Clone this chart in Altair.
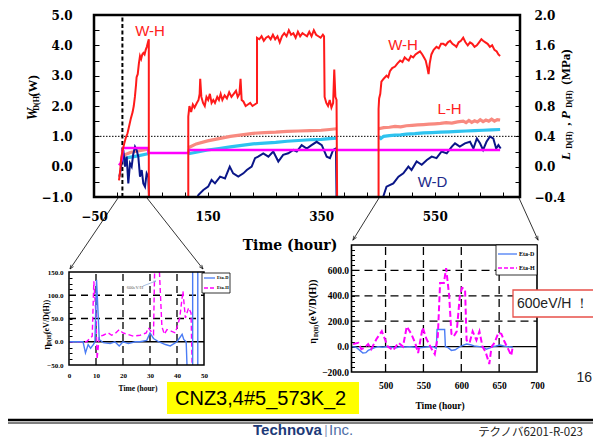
import math
import altair as alt
import pandas as pd

# ---------------- main chart data: (hour, value) ----------------
# W-H (W, left axis)
WH_SEG1 = [(-6, -0.45), (-4, -0.15), (-2, 0.3), (0, 0.5), (3, 0.75), (6, 0.95), (9, 1.1), (12, 1.35),
           (15, 1.6), (18, 1.8), (20, 2.0), (22, 2.3), (24, 2.7), (25, 2.95), (27, 3.05), (29, 3.4),
           (31, 3.65), (33, 3.55), (35, 3.7), (37, 3.75), (39, 3.7), (41, 3.85), (43, 3.95), (45, 4.1),
           (46.5, 4.2), (46.5, -1)]
WH_SEG2 = [(116, -1), (116, 1.65), (118, 2.0), (121, 1.8), (124, 2.05), (127, 1.95), (131, 2.1), (134, 2.2),
           (136, 2.4), (137, 2.9), (139, 2.3), (142, 2.1), (145, 2.0), (148, 2.3), (151, 2.2), (154, 2.4),
           (157, 2.1), (160, 2.2), (163, 2.1), (167, 2.3), (170, 2.2), (173, 2.4), (176, 2.2), (180, 2.35),
           (184, 2.25), (188, 2.45), (192, 2.3), (196, 2.4), (200, 2.5), (203, 2.3), (206, 2.4), (208, 2.9),
           (210, 2.2), (213, 2.15), (217, 2.0), (221, 2.05), (225, 2.1), (229, 2.0), (233, 2.05), (237, 2.1),
           (237, 4.25), (241, 4.2), (245, 4.3), (249, 4.15), (253, 4.25), (257, 4.3), (261, 4.2), (265, 4.35),
           (269, 4.2), (273, 4.3), (277, 4.1), (281, 4.3), (285, 4.4), (289, 4.3), (293, 4.5), (297, 4.35),
           (301, 4.4), (305, 4.25), (309, 4.45), (313, 4.3), (317, 4.4), (321, 4.35), (325, 4.3), (329, 4.45),
           (333, 4.3), (337, 4.5), (341, 4.35), (345, 4.3), (349, 4.25), (353, 4.35), (355, 4.3), (356, 2.3),
           (359, 2.1), (362, 2.0), (365, 2.2), (368, 1.95), (371, 2.1), (373, 3.2), (375, 2.3), (377, 2.2),
           (378, -1)]
WH_SEG3 = [(451, -1), (451, 1.9), (452, 2.25), (454, 2.4), (456, 2.8), (460, 2.9), (465, 3.0), (468, 2.95),
           (471, 3.15), (475, 3.25), (480, 3.3), (484, 3.4), (489, 3.5), (493, 3.45), (497, 3.6), (500, 3.55),
           (504, 3.5), (508, 3.65), (512, 3.6), (516, 3.7), (520, 3.75), (524, 3.8), (528, 3.7), (531, 3.6),
           (534, 3.5), (537, 3.25), (539, 3.05), (541, 3.4), (544, 3.7), (548, 3.85), (553, 3.95), (557, 3.9),
           (561, 4.05), (565, 4.05), (569, 4.0), (573, 4.1), (577, 4.15), (581, 4.05), (585, 4.0), (588, 3.95),
           (592, 4.1), (596, 4.15), (600, 4.25), (604, 4.1), (608, 4.0), (612, 4.1), (616, 4.05), (620, 3.95),
           (624, 4.0), (628, 4.1), (632, 4.2), (635, 4.15), (639, 4.1), (643, 4.05), (647, 3.95), (651, 4.0),
           (655, 3.85), (659, 3.8), (662, 3.7), (665, 3.65)]

# W-D (W, left axis)
WD_SEG1 = [(-5.4, -0.33), (-3, -0.11), (1.6, 0.55), (4.6, 0.0), (7.5, 0.33), (10.4, -0.55), (13.4, 0.11),
           (16.3, 0.0), (19, 0.4), (22.2, 0.66), (25.1, 0.55), (28, 0.33), (31, -0.33), (34, -0.11),
           (36.8, -0.55), (39.8, -0.66), (42.7, -0.22), (45.6, -0.33), (47, -1)]
WD_SEG2 = [(132, -1), (134, -0.93), (142.5, -0.77), (151, -0.66), (157, -0.44), (163, -0.55), (172, -0.33),
           (180.6, -0.39), (189, 0.0), (195, -0.22), (204, -0.33), (213, -0.22), (219, -0.11), (227.6, 0.0),
           (233.5, 0.28), (239, 0.33), (248, 0.44), (257, 0.33), (265.6, 0.5), (274.5, 0.17), (283, 0.39),
           (292, 0.44), (301, 0.55), (307, 0.5), (315.6, 0.71), (324.5, 0.6), (333, 0.71), (342, 0.82),
           (351, 0.71), (359.7, 0.33), (365.5, 0.28), (371, 0.55), (376, 0.6), (377, -1)]
WD_SEG3 = [(459, -1), (465, -0.66), (477, -0.55), (486, -0.33), (494.6, -0.22), (503.5, 0.0), (509, -0.11),
           (518, 0.17), (527, 0.06), (536, 0.22), (544.5, 0.33), (553, 0.28), (562, 0.5), (571, 0.44),
           (580, 0.66), (585.6, 0.77), (594, 0.66), (603, 0.77), (612, 0.82), (618, 0.6), (624, 0.93),
           (629.6, 0.77), (635, 0.55), (641, 0.82), (647, 0.99), (653, 0.93), (658, 0.6), (662, 0.71), (666, 0.6)]

# L-H (MPa, right axis)
LH_SEG1 = [(0, 0.12), (5, 0.16), (15, 0.19), (30, 0.21), (45, 0.23)]
LH_SEG2 = [(116, 0.25), (130, 0.3), (150, 0.34), (170, 0.37), (190, 0.4), (210, 0.42), (230, 0.44),
           (250, 0.45), (270, 0.455), (290, 0.465), (310, 0.47), (330, 0.475), (350, 0.48), (365, 0.49),
           (377, 0.5)]
LH_SEG3 = [(451, 0.5), (460, 0.515), (470, 0.52), (480, 0.53), (490, 0.525), (500, 0.54), (510, 0.545),
           (520, 0.55), (530, 0.555), (540, 0.56), (550, 0.565), (560, 0.57), (570, 0.58), (580, 0.575),
           (590, 0.59), (600, 0.6), (605, 0.58), (610, 0.61), (615, 0.585), (620, 0.605), (625, 0.59),
           (630, 0.62), (635, 0.595), (640, 0.615), (645, 0.6), (650, 0.625), (655, 0.6), (660, 0.62),
           (665, 0.615)]
# L-D (MPa, right axis, cyan)
LD_SEG1 = [(0, 0.08), (10, 0.12), (25, 0.14), (45, 0.17)]
LD_SEG2 = [(116, 0.17), (130, 0.19), (150, 0.22), (170, 0.24), (190, 0.26), (210, 0.28), (230, 0.3),
           (250, 0.31), (270, 0.32), (290, 0.335), (310, 0.345), (330, 0.355), (350, 0.36), (365, 0.37),
           (377, 0.375)]
LD_SEG3 = [(451, 0.39), (455, 0.37), (460, 0.4), (470, 0.41), (480, 0.415), (490, 0.42), (500, 0.43),
           (515, 0.435), (530, 0.445), (545, 0.45), (560, 0.455), (575, 0.46), (590, 0.465), (605, 0.47),
           (620, 0.475), (635, 0.48), (650, 0.485), (665, 0.49)]
# P (MPa, right axis, magenta)
P_SEG1 = [(-6, 0.02), (-3, 0.05), (-1, 0.1), (1, 0.245), (45, 0.245), (46, 0.18), (116, 0.18), (117, 0.22),
          (665, 0.22)]

# ---------------- lower-left panel (hour, eV/D(H)) ----------------
LEFT_ETA_D = [
    [(0, 0), (5.2, 0), (6.1, -24), (7.1, -6), (8, -14), (9, -6), (9.6, 0), (10.2, 133), (10.8, 58), (11.2, 5),
     (12.7, -2), (15.2, -4), (17, 0), (18.6, -9), (20, 0), (22, -4), (24.5, 0), (26.3, 0), (28.8, 3), (30, 19),
     (31.3, 7), (33.2, 0), (35.7, -6), (37.5, -9), (40, 0), (41.9, 16), (42.5, 5), (43.4, 0), (43.7, -50)],
    [(45.8, -50), (45.8, 150)],
    [(47.7, 150), (47.7, -50)],
]
LEFT_ETA_H = [
    [(0, 0), (6.5, 0), (7.7, 7), (8.6, 12), (9.2, 130), (10, 58), (10.4, -38), (11.2, 12), (12.7, 14),
     (14.5, 19), (15.8, 14), (17, 17), (18.6, 26), (20, 19), (21.6, 16), (23.9, 12), (26.3, 14), (28.6, 19),
     (29.4, 30), (30.3, 23), (31.3, 16), (31.7, 150)],
    [(33.5, 150), (34.4, 33), (35.3, 16), (36.3, 26), (37.8, 23), (39.4, 19), (41, 51), (42.2, 109),
     (43.1, 51), (44.3, 73), (45.2, 62), (45.6, -50)],
]

# ---------------- lower-right panel (hour, eV/D(H)) ----------------
RIGHT_ETA_D = [
    [(455, 0), (461, -5), (466, -30), (470, -50), (474, -48), (477, -30), (481, -20), (485, -10), (490, 0),
     (496, -5), (502, 0), (508, -5), (514, -10), (520, 0), (526, -3), (532, 0), (538, -5), (545, -10),
     (551, -5), (557, 0), (563, 0), (567, -15), (568, 135), (573, 135), (578, 135), (579, 0), (583, -10),
     (587, -30), (592, -25), (597, -5), (602, 10), (607, 20), (612, 15), (617, 5), (624, 0), (629, -5),
     (633, -20), (638, -10), (642, 0), (646, 5), (651, 12), (656, 5), (661, 0), (666, -3), (668, -5)],
]
RIGHT_ETA_H = [
    [(457, 21), (464, 30), (468, -20), (472, -10), (477, 20), (481, -20), (488, 60), (495, 121), (499, 60),
     (503, 0), (510, -30), (517, 30), (523, 0), (528, 158), (534, 100), (539, 30), (543, -50), (549, 150),
     (554, 60), (561, -20), (565, -60), (569, 80), (572, 500), (577, 500), (580, 618), (584, 400), (587, 100),
     (590, 80), (594, 120), (598, 395), (601, 463), (605, 450), (607, 50), (611, 30), (615, 120), (620, 50),
     (624, 120), (628, 0), (632, -40), (637, -137), (640, 0), (644, 30), (649, 110), (653, 100), (657, 40),
     (662, -20), (666, -70), (668, 0)],
]

# ---------------- tick values / labels ----------------
MAIN_X_LABELS = [-50, 150, 350, 550]
MAIN_X_TICKS = [-10, 30, 70, 110, 150, 190, 230, 270, 310, 350, 390, 430, 470, 510, 550, 590, 630, 670]
MAIN_YL_LABELS = [-1, 0, 1, 2, 3, 4, 5]
MAIN_YL_TICKS = [-0.5, 0, 0.5, 1, 1.5, 2, 2.5, 3, 3.5, 4, 4.5]
MAIN_YR_LABELS = [-0.4, 0.0, 0.4, 0.8, 1.2, 1.6, 2.0]
MAIN_YR_TICKS = [-0.2, 0.0, 0.2, 0.4, 0.6, 0.8, 1.0, 1.2, 1.4, 1.6, 1.8]
LEFT_X_LABELS = [0, 10, 20, 30, 40, 50]
LEFT_Y_LABELS = [-50, 0, 50, 100, 150]
LEFT_Y_TICKS = [-37.5, -25, -12.5, 0, 12.5, 25, 37.5, 50, 62.5, 75, 87.5, 100, 112.5, 125, 137.5]
LEFT_GRID_X = [10, 20, 30, 40]
LEFT_GRID_Y = [50, 100]
RIGHT_X_LABELS = [500, 550, 600, 650, 700]
RIGHT_Y_LABELS = [-200, 0, 200, 400, 600]
RIGHT_Y_TICKS = [-160, -120, -80, -40, 0, 40, 80, 120, 160, 200, 240, 280, 320, 360, 400, 440, 480, 520,
                 560, 600, 640, 680, 720, 760]
RIGHT_GRID_X = [500, 550, 600, 650]
RIGHT_GRID_Y = [200, 400, 600]

# ---------------- layout (slide pixels; the page adds an 8px margin) ----------------
PAGE = 8
W, H = 585, 430
M_L, M_R, M_T, M_B = 94, 520, 15, 197
L_L, L_R, L_T, L_B = 69, 204, 272, 365
R_L, R_R, R_T, R_B = 351.5, 537, 245, 372


def c(v):
    return v - PAGE


def sc(domain, rng):
    return alt.Scale(domain=domain, range=rng, nice=False, zero=False)


MAIN_X = lambda: sc([-50, 700], [c(M_L), c(M_R)])
MAIN_YL = lambda: sc([-1, 5], [c(M_B), c(M_T)])
MAIN_YR = lambda: sc([-0.4, 2.0], [c(M_B), c(M_T)])
LX = lambda: sc([0, 50], [c(L_L), c(L_R)])
LY = lambda: sc([-50, 150], [c(L_B), c(L_T)])
RX = lambda: sc([455, 700], [c(R_L), c(R_R)])
RY = lambda: sc([-200, 800], [c(R_B), c(R_T)])
SX = lambda: sc([0, 601], [-PAGE, 601 - PAGE])
SY = lambda: sc([0, 446], [-PAGE, 446 - PAGE])

layers = []


def lines(segs, xs, ys, **mk):
    rows = []
    k = 0
    for si, seg in enumerate(segs):
        for (x, y) in seg:
            rows.append({'x': x, 'y': y, 's': si, 'o': k})
            k += 1
    df = pd.DataFrame(rows)
    return alt.Chart(df).mark_line(**mk).encode(
        x=alt.X('x:Q', scale=xs(), axis=None),
        y=alt.Y('y:Q', scale=ys(), axis=None),
        detail='s:N', order='o:Q')


def rules(rows, xs, ys, **mk):
    df = pd.DataFrame(rows, columns=['x', 'y', 'x2', 'y2'])
    return alt.Chart(df).mark_rule(**mk).encode(
        x=alt.X('x:Q', scale=xs(), axis=None), y=alt.Y('y:Q', scale=ys(), axis=None),
        x2='x2:Q', y2='y2:Q')


def rects(rows, xs, ys, **mk):
    df = pd.DataFrame(rows, columns=['x', 'y', 'x2', 'y2'])
    return alt.Chart(df).mark_rect(**mk).encode(
        x=alt.X('x:Q', scale=xs(), axis=None), y=alt.Y('y:Q', scale=ys(), axis=None),
        x2='x2:Q', y2='y2:Q')


def texts(rows, xs, ys, **mk):
    df = pd.DataFrame(rows, columns=['x', 'y', 't'])
    return alt.Chart(df).mark_text(**mk).encode(
        x=alt.X('x:Q', scale=xs(), axis=None), y=alt.Y('y:Q', scale=ys(), axis=None),
        text='t:N')


def heads(rows, **mk):
    recs = []
    for x0, y0, x1, y1 in rows:
        ang = math.degrees(math.atan2(x1 - x0, -(y1 - y0))) % 360
        recs.append({'x': x1, 'y': y1, 'a': ang})
    return alt.Chart(pd.DataFrame(recs)).mark_point(
        shape='M-0.8,2L0,0L0.8,2', filled=False, **mk).encode(
        x=alt.X('x:Q', scale=SX(), axis=None), y=alt.Y('y:Q', scale=SY(), axis=None),
        angle=alt.Angle('a:Q', scale=None))


def axis_layer(ch, scale, values, **ax):
    base = dict(title='', grid=False, domain=False, labelFlush=False, labelOverlap=False,
                tickColor='black', labelColor='black', values=values)
    base.update(ax)
    df = pd.DataFrame({'v': values})
    if ch == 'x':
        enc = alt.X('v:Q', scale=scale(), axis=alt.Axis(**base))
    else:
        enc = alt.Y('v:Q', scale=scale(), axis=alt.Axis(**base))
    return alt.Chart(df).mark_point(opacity=0).encode(enc)


def label_axis(ch, scale, values, orient, offset, font, size, pad, fmt):
    return axis_layer(ch, scale, values, orient=orient, offset=offset, ticks=False, labelFont=font,
                      labelFontSize=size, labelFontWeight='bold', labelPadding=pad, format=fmt)


def tick_axis(ch, scale, values, orient, offset, size):
    return axis_layer(ch, scale, values, orient=orient, offset=offset, labels=False, ticks=True,
                      tickSize=size, tickWidth=1)


RED = '#ff1a1a'
SALMON = '#f88a80'
CYAN = '#2ec3ef'
MAGENTA = '#ff00ff'
NAVY = '#0a1688'
BLUE = '#4a7cf5'
SERIF_B = 'DejaVu Serif'
SERIF = 'Liberation Serif'
SANS = 'Liberation Sans'

# ================= main chart =================
layers.append(rules([(0, -1, 0, 5)], MAIN_X, MAIN_YL, color='black', strokeWidth=2, strokeDash=[4, 2.5]))
layers.append(rules([(-50, 1, 700, 1)], MAIN_X, MAIN_YL, color='black', strokeWidth=1, strokeDash=[1.5, 1.5]))
layers.append(lines([LH_SEG1, LH_SEG2, LH_SEG3], MAIN_X, MAIN_YR, color=SALMON, strokeWidth=3.2))
layers.append(lines([LD_SEG1, LD_SEG2, LD_SEG3], MAIN_X, MAIN_YR, color=CYAN, strokeWidth=3.2))
layers.append(lines([WD_SEG1, WD_SEG2, WD_SEG3], MAIN_X, MAIN_YL, color=NAVY, strokeWidth=2))
layers.append(lines([P_SEG1], MAIN_X, MAIN_YR, color=MAGENTA, strokeWidth=2.5))
layers.append(lines([WH_SEG1, WH_SEG2, WH_SEG3], MAIN_X, MAIN_YL, color=RED, strokeWidth=2))
layers.append(rects([(-50, -1, 700, 5)], MAIN_X, MAIN_YL, fillOpacity=0, stroke='black', strokeWidth=2.5))
layers.append(texts([(48.6, 4.47, 'W-H'), (494, 4.0, 'W-H'), (576, 1.9, 'L-H')], MAIN_X, MAIN_YL,
                    font=SANS, fontSize=15, color='#ff2020', align='center', baseline='middle'))
layers.append(texts([(546, -0.5, 'W-D')], MAIN_X, MAIN_YL,
                    font=SANS, fontSize=15, color='#1c2a8a', align='center', baseline='middle'))

layers.append(label_axis('y', MAIN_YL, MAIN_YL_LABELS, 'left', -c(M_L), SERIF_B, 12, 22, '.1f'))
layers.append(tick_axis('y', MAIN_YL, MAIN_YL_TICKS, 'right', c(M_L) - W, 5))
layers.append(label_axis('y', MAIN_YR, MAIN_YR_LABELS, 'right', c(M_R) - W, SERIF_B, 12, 14, '.1f'))
layers.append(tick_axis('y', MAIN_YR, MAIN_YR_TICKS, 'left', -c(M_R), 5))
layers.append(label_axis('x', MAIN_X, MAIN_X_LABELS, 'bottom', c(M_B) - H, SERIF_B, 12, 14, 'd'))
layers.append(tick_axis('x', MAIN_X, MAIN_X_TICKS, 'top', -c(M_B), 5))

# ================= lower-left panel =================
layers.append(rules([(x, -50, x, 150) for x in LEFT_GRID_X] + [(0, y, 50, y) for y in LEFT_GRID_Y],
                    LX, LY, color='black', strokeWidth=1.3, strokeDash=[7, 5]))
layers.append(rules([(0, 0, 50, 0)], LX, LY, color='black', strokeWidth=1.3))
layers.append(lines(LEFT_ETA_H, LX, LY, color=MAGENTA, strokeWidth=1.4, strokeDash=[5, 3]))
layers.append(lines(LEFT_ETA_D, LX, LY, color=BLUE, strokeWidth=1.4))
layers.append(rects([(0, -50, 50, 150)], LX, LY, fillOpacity=0, stroke='black', strokeWidth=1.5))
layers.append(label_axis('y', LY, LEFT_Y_LABELS, 'left', -c(L_L), SERIF, 7, 6, '.1f'))
layers.append(tick_axis('y', LY, LEFT_Y_TICKS, 'right', c(L_L) - W, 3))
layers.append(label_axis('x', LX, LEFT_X_LABELS, 'bottom', c(L_B) - H, SERIF, 7, 6, 'd'))

# ================= lower-right panel =================
layers.append(rules([(x, -200, x, 800) for x in RIGHT_GRID_X] + [(455, y, 700, y) for y in RIGHT_GRID_Y],
                    RX, RY, color='black', strokeWidth=1.3, strokeDash=[8, 5]))
layers.append(rules([(455, 0, 700, 0)], RX, RY, color='black', strokeWidth=1.4))
layers.append(lines(RIGHT_ETA_D, RX, RY, color=BLUE, strokeWidth=1.4))
layers.append(lines(RIGHT_ETA_H, RX, RY, color=MAGENTA, strokeWidth=2, strokeDash=[6, 3]))
layers.append(rects([(455, -200, 700, 800)], RX, RY, fillOpacity=0, stroke='black', strokeWidth=1.6))
layers.append(label_axis('y', RY, RIGHT_Y_LABELS, 'left', -c(R_L), SERIF, 9.5, 3, '.1f'))
layers.append(tick_axis('y', RY, RIGHT_Y_TICKS, 'right', c(R_L) - W, 3))
layers.append(label_axis('x', RX, RIGHT_X_LABELS, 'bottom', c(R_B) - H, SERIF, 9.5, 8, 'd'))

# ================= slide annotations (slide pixel coordinates) =================
ARROWS = [(118, 198, 70, 269), (147, 198, 203, 269), (379, 198, 353, 240), (519, 198, 538, 240)]
layers.append(rules(ARROWS, SX, SY, color='black', strokeWidth=0.8))
layers.append(heads(ARROWS, color='black', size=16, strokeWidth=0.9))
SMALL_ARROW = [(143, 286, 156, 281)]
layers.append(rules(SMALL_ARROW, SX, SY, color='#7fa3d6', strokeWidth=0.7))
layers.append(heads(SMALL_ARROW, color='#7fa3d6', size=6, strokeWidth=0.7))
layers.append(texts([(135, 288, '600eV/H')], SX, SY, font=SERIF, fontSize=4.5, color='#555',
                    align='center', baseline='middle'))

# main axis titles
layers.append(texts([(33, 114, 'W')], SX, SY, font=SERIF, fontSize=14, fontStyle='italic',
                    fontWeight='bold', angle=270, align='center', baseline='middle'))
layers.append(texts([(37, 102, 'D(H)'), (570, 140, 'D(H)'), (570, 99, 'D(H)')], SX, SY, font=SERIF,
                    fontSize=8, fontWeight='bold', angle=270, align='center', baseline='middle'))
layers.append(texts([(33, 86, '(W)'), (566, 67, '(MPa)'), (566, 124, ',')], SX, SY, font=SERIF,
                    fontSize=13, fontWeight='bold', angle=270, align='center', baseline='middle'))
layers.append(texts([(566, 156, 'L'), (566, 115, 'P')], SX, SY, font=SERIF, fontSize=13,
                    fontStyle='italic', fontWeight='bold', angle=270, align='center', baseline='middle'))
layers.append(texts([(290, 246, 'Time (hour)')], SX, SY, font=SERIF_B, fontSize=14, fontWeight='bold',
                    align='center', baseline='middle'))

# panel axis titles
layers.append(texts([(138, 389, 'Time (hour)')], SX, SY, font=SERIF, fontSize=7.5, fontWeight='bold',
                    align='center', baseline='middle'))
layers.append(texts([(440, 406, 'Time (hour)')], SX, SY, font=SERIF, fontSize=9.5, fontWeight='bold',
                    align='center', baseline='middle'))
layers.append(texts([(47, 347, 'η'), (313, 341, 'η')], SX, SY, font=SERIF, fontSize=10, fontWeight='bold',
                    angle=270, align='center', baseline='middle'))
layers.append(texts([(49, 339, 'D(H)'), (316, 331, 'D(H)')], SX, SY, font=SERIF, fontSize=5.5,
                    fontWeight='bold', angle=270, align='center', baseline='middle'))
layers.append(texts([(47, 317, '(eV/D(H))')], SX, SY, font=SERIF, fontSize=8, fontWeight='bold',
                    angle=270, align='center', baseline='middle'))
layers.append(texts([(313, 302, '(eV/D(H))')], SX, SY, font=SERIF, fontSize=10.5, fontWeight='bold',
                    angle=270, align='center', baseline='middle'))

# legends
layers.append(rects([(202, 273, 230, 293), (496, 245, 537, 275)], SX, SY, fill='white',
                    stroke='black', strokeWidth=0.8))
layers.append(rules([(204, 278, 215, 278), (498, 254, 517, 254)], SX, SY, color=BLUE, strokeWidth=1.3))
layers.append(rules([(204, 288, 215, 288), (498, 268, 517, 268)], SX, SY, color=MAGENTA, strokeWidth=1.6,
                    strokeDash=[4, 2]))
layers.append(texts([(217, 278, 'Eta-D'), (217, 288, 'Eta-H')], SX, SY, font=SERIF, fontSize=4.5,
                    fontWeight='bold', align='left', baseline='middle'))
layers.append(texts([(519, 254, 'Eta-D'), (519, 268, 'Eta-H')], SX, SY, font=SERIF, fontSize=6,
                    fontWeight='bold', align='left', baseline='middle'))

# callout boxes
layers.append(rects([(513, 290, 601, 317)], SX, SY, fill='white', stroke='#e8504a', strokeWidth=1.3))
layers.append(texts([(517, 304, '600eV/H ！')], SX, SY, font=SANS, fontSize=14, color='#222',
                    align='left', baseline='middle'))
layers.append(rects([(167, 382, 359, 414)], SX, SY, fill='#ffff00'))
layers.append(texts([(175, 398.5, 'CNZ3,4#5_573K_2')], SX, SY, font=SANS, fontSize=20, color='black',
                    align='left', baseline='middle'))
layers.append(texts([(592, 378, '16')], SX, SY, font=SANS, fontSize=14, color='#222',
                    align='right', baseline='middle'))

# footer
layers.append(rules([(7, 420, 601, 420)], SX, SY, color='black', strokeWidth=2.6))
layers.append(rules([(7, 423, 601, 423)], SX, SY, color='black', strokeWidth=1))
layers.append(texts([(253, 434.7, 'Technova')], SX, SY, font=SANS, fontSize=15, fontWeight='bold',
                    color='#1d3a78', align='left', baseline='alphabetic'))
layers.append(texts([(326, 434, '|')], SX, SY, font=SANS, fontSize=13, color='#8a9ab8',
                    align='center', baseline='alphabetic'))
layers.append(texts([(329, 434.7, 'Inc.')], SX, SY, font=SANS, fontSize=15, color='#4f6ea6',
                    align='left', baseline='alphabetic'))
layers.append(texts([(583, 436, 'テクノバ6201-R-023')], SX, SY, font='Noto Sans CJK JP', fontSize=11.5,
                    color='#222', align='right', baseline='alphabetic'))

chart = alt.layer(*layers).resolve_scale(x='independent', y='independent').properties(
    width=W, height=H, padding=0, autosize=alt.AutoSizeParams(type='none')
).configure_view(strokeWidth=0)

chart.save('out.html', embed_options={'renderer': 'svg', 'actions': False})
